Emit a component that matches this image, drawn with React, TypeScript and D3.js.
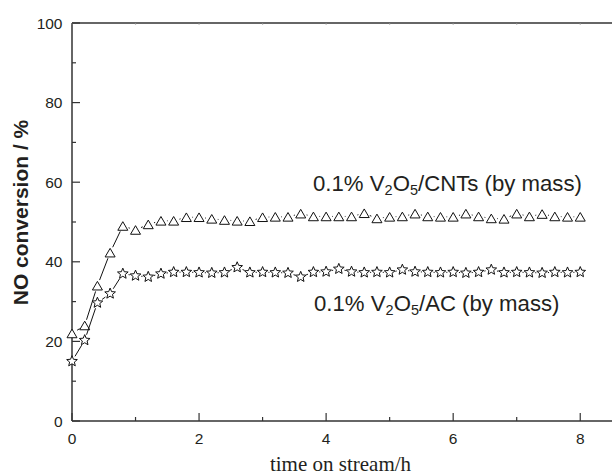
import React, { useEffect, useRef } from "react"
import * as d3 from "d3"

// time on stream (h)
const times = [
  0, 0.2, 0.4, 0.6, 0.8, 1, 1.2, 1.4, 1.6, 1.8, 2, 2.2, 2.4, 2.6, 2.8, 3, 3.2, 3.4, 3.6, 3.8, 4,
  4.2, 4.4, 4.6, 4.8, 5, 5.2, 5.4, 5.6, 5.8, 6, 6.2, 6.4, 6.6, 6.8, 7, 7.2, 7.4, 7.6, 7.8, 8,
]
// NO conversion (%) for 0.1% V2O5/CNTs
const cntValues = [
  22, 24, 34, 42.3, 49, 48, 49.4, 50.3, 50.3, 51.2, 51.2, 50.8, 50.5, 50.3, 50.2, 51.2, 51.3,
  51.3, 52.1, 51.4, 51.4, 51.4, 51.4, 52.2, 50.9, 51.3, 51.4, 52.1, 51.4, 51.3, 51.3, 52.1,
  51.4, 50.9, 50.8, 52.1, 51.4, 52, 51.4, 51.3, 51.3,
]
// NO conversion (%) for 0.1% V2O5/AC
const acValues = [
  15, 20.3, 29.7, 32, 37, 36.5, 36.2, 37, 37.4, 37.4, 37.3, 37.2, 37.3, 38.6, 37.3, 37.4, 37.3,
  37.2, 36.2, 37.4, 37.5, 38.2, 37.5, 37.3, 37.4, 37.3, 38, 37.5, 37.4, 37.3, 37.4, 37.2,
  37.4, 38, 37.3, 37.4, 37.3, 37.2, 37.4, 37.3, 37.4,
]
const xTicks = [0, 2, 4, 6, 8]
const xMinor = [1, 3, 5, 7]
const yTicks = [0, 20, 40, 60, 80, 100]
const yMinor = [10, 30, 50, 70, 90]

const W = 612
const H = 475
const INK = "#231f20"
const SANS = "'Liberation Sans', Arial, sans-serif"

function starPath(R: number, r: number) {
  const pts: [number, number][] = []
  for (let i = 0; i < 10; i++) {
    const a = -Math.PI / 2 + (i * Math.PI) / 5
    const rad = i % 2 === 0 ? R : r
    pts.push([rad * Math.cos(a), rad * Math.sin(a)])
  }
  return "M" + pts.map(p => p[0].toFixed(2) + "," + p[1].toFixed(2)).join("L") + "Z"
}

export default function App() {
  const ref = useRef<SVGSVGElement>(null)

  useEffect(() => {
    const svg = d3.select(ref.current)
    svg.selectAll("*").remove()

    const x = d3.scaleLinear().domain([0, 8.5]).range([72, 612])
    const y = d3.scaleLinear().domain([0, 100]).range([421, 23])

    // frame
    const axes = svg.append("g").attr("stroke", "#333").attr("stroke-width", 1.5).attr("fill", "none")
    axes.append("line").attr("x1", x(0)).attr("x2", x(8.5)).attr("y1", y(0)).attr("y2", y(0))
    axes.append("line").attr("x1", x(0)).attr("x2", x(8.5)).attr("y1", y(100)).attr("y2", y(100))
    axes.append("line").attr("x1", x(0)).attr("x2", x(0)).attr("y1", y(0)).attr("y2", y(100))

    // ticks (inward)
    const tk = svg.append("g").attr("stroke", "#333").attr("stroke-width", 1.2)
    xTicks.forEach(t => {
      tk.append("line").attr("x1", x(t)).attr("x2", x(t)).attr("y1", y(0)).attr("y2", y(0) - 8)
    })
    xMinor.forEach(t => {
      tk.append("line").attr("x1", x(t)).attr("x2", x(t)).attr("y1", y(0)).attr("y2", y(0) - 4)
    })
    ;[...xTicks, ...xMinor].forEach(t => {
      tk.append("line").attr("x1", x(t)).attr("x2", x(t)).attr("y1", y(100)).attr("y2", y(100) + 1.5)
        .attr("stroke", "#888")
    })
    yTicks.forEach(v => {
      tk.append("line").attr("x1", x(0)).attr("x2", x(0) + 8).attr("y1", y(v)).attr("y2", y(v))
    })
    yMinor.forEach(v => {
      tk.append("line").attr("x1", x(0)).attr("x2", x(0) + 4).attr("y1", y(v)).attr("y2", y(v))
    })

    // tick labels
    svg.append("g").selectAll("text").data(xTicks).enter().append("text")
      .attr("x", d => x(d)).attr("y", 443.5)
      .attr("text-anchor", "middle")
      .attr("font-family", SANS).attr("font-size", 15.5).attr("fill", INK)
      .text(d => d)
    svg.append("g").selectAll("text").data(yTicks).enter().append("text")
      .attr("x", 62.5).attr("y", d => y(d) + 5.5)
      .attr("text-anchor", "end")
      .attr("font-family", SANS).attr("font-size", 15.5).attr("fill", INK)
      .text(d => d)

    // axis titles
    svg.append("text")
      .attr("transform", "translate(27.5,212.5) rotate(-90)")
      .attr("text-anchor", "middle")
      .attr("font-family", SANS).attr("font-weight", "bold").attr("font-size", 21).attr("fill", INK)
      .text("NO conversion / %")
    svg.append("text")
      .attr("x", 340.5).attr("y", 471)
      .attr("text-anchor", "middle")
      .attr("font-family", "'Liberation Serif', 'Times New Roman', serif").attr("font-size", 21).attr("fill", INK)
      .text("time on stream/h")

    // series
    const drawSeries = (vals: number[], gap: number, marker: string) => {
      const pts = times.map((t, i) => [x(t), y(vals[i])])
      const g = svg.append("g")
      for (let i = 0; i < pts.length - 1; i++) {
        const [x1, y1] = pts[i]
        const [x2, y2] = pts[i + 1]
        const len = Math.hypot(x2 - x1, y2 - y1)
        if (len <= 2 * gap) continue
        const ux = (x2 - x1) / len
        const uy = (y2 - y1) / len
        g.append("line")
          .attr("x1", x1 + ux * gap).attr("y1", y1 + uy * gap)
          .attr("x2", x2 - ux * gap).attr("y2", y2 - uy * gap)
          .attr("stroke", "#111").attr("stroke-width", 1)
      }
      g.selectAll("path.m").data(pts).enter().append("path")
        .attr("class", "m")
        .attr("d", marker)
        .attr("transform", d => `translate(${d[0]},${d[1]})`)
        .attr("fill", "white").attr("stroke", "#111").attr("stroke-width", 1)
    }
    drawSeries(cntValues, 6, "M0,-4.3L5,4.3L-5,4.3Z")
    drawSeries(acValues, 5.8, starPath(5.6, 2.5))

    // annotations
    const label = (xp: number, yp: number, tail: string) => {
      const t = svg.append("text")
        .attr("x", xp).attr("y", yp)
        .attr("font-family", SANS).attr("font-size", 22.2).attr("fill", INK)
      t.append("tspan").text("0.1% V")
      t.append("tspan").attr("font-size", 14.5).attr("dy", 4).text("2")
      t.append("tspan").attr("dy", -4).text("O")
      t.append("tspan").attr("font-size", 14.5).attr("dy", 4).text("5")
      t.append("tspan").attr("dy", -4).text(tail)
    }
    label(313, 190.5, "/CNTs (by mass)")
    label(314, 311, "/AC (by mass)")
  }, [])

  return (
    <svg
      ref={ref}
      width={W}
      height={H}
      style={{ position: "absolute", left: 0, top: 0, background: "white" }}
    />
  )
}
